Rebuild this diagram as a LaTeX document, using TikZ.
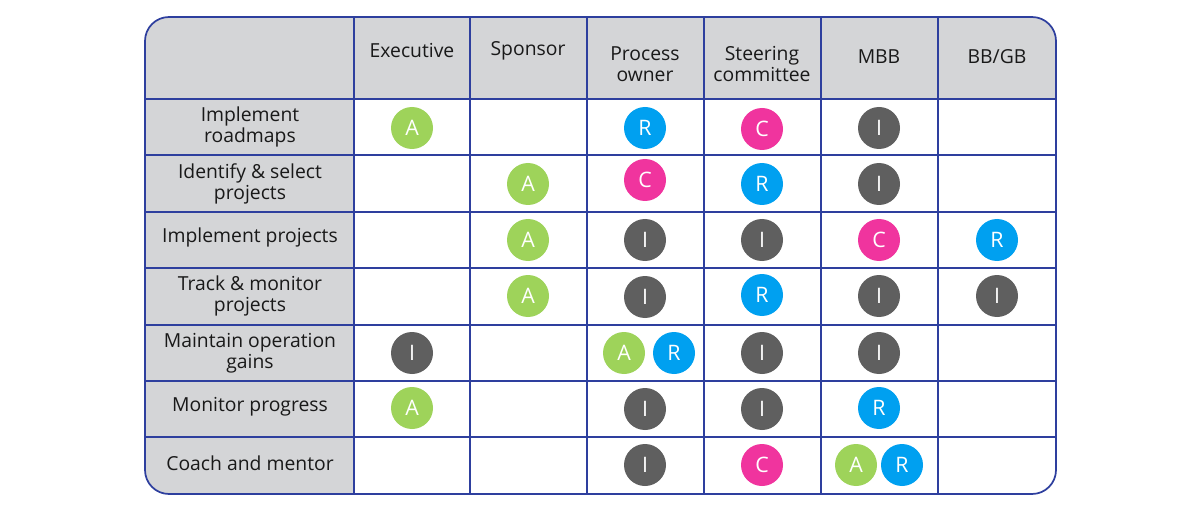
\documentclass[tikz,border=0pt]{standalone}
\usepackage{fontspec}
\setmainfont{Open Sans}
\definecolor{bord}{HTML}{2E3F9E}
\definecolor{hdr}{HTML}{D4D5D7}
\definecolor{cA}{HTML}{9ED35A}
\definecolor{cR}{HTML}{00A0F0}
\definecolor{cC}{HTML}{F0349E}
\definecolor{cI}{HTML}{5F5F5F}
\begin{document}
\begin{tikzpicture}[x=0.75pt,y=-0.75pt,
  txt/.style={font=\fontsize{14.5}{16}\selectfont, align=center, text=black!90},
  bub/.style={circle, minimum size=31.5pt, inner sep=0pt, text=white, font=\fontsize{16}{16}\selectfont}]
\useasboundingbox (0,0) rectangle (1196,506);
\begin{scope}
\clip[rounded corners=18] (145,17) rectangle (1056,494);
\fill[white] (145,17) rectangle (1056,494);
\fill[hdr] (145,17) rectangle (1056,99);
\fill[hdr] (145,17) rectangle (354,494);
\foreach \x in {354,470,587,704,821,938} \draw[bord,line width=1.1pt] (\x,17) -- (\x,494);
\foreach \y in {99,155,212,268,325,381,437} \draw[bord,line width=1.1pt] (145,\y) -- (1056,\y);
\end{scope}
\draw[bord,line width=1.3pt,rounded corners=18] (145,17) rectangle (1056,494);
% headers
\node[txt] (h1) at (412,51) {Executive};
\node[txt] (h2) at (528,51) {Sponsor};
\node[txt] (h3) at (645,64) {Process\\owner};
\node[txt] (h4) at (762,64) {Steering\\committee};
\node[txt] (h5) at (879,57) {MBB};
\node[txt] (h6) at (997,57) {BB/GB};
% row labels
\node[txt] (r1) at (250,127) {Implement\\roadmaps};
\node[txt] (r2) at (250,184) {Identify \& select\\projects};
\node[txt] (r3) at (250,237) {Implement projects};
\node[txt] (r4) at (250,296) {Track \& monitor\\projects};
\node[txt] (r5) at (250,353) {Maintain operation\\gains};
\node[txt] (r6) at (250,407) {Monitor progress};
\node[txt] (r7) at (250,463) {Coach and mentor};
% bubbles
\newcommand\bb[4]{\node[bub,fill=c#3] (#4) at (#1,#2) {#3};}
\bb{412}{128}{A}{a11} \bb{645}{128}{R}{a13} \bb{762}{129}{C}{a14} \bb{879}{128}{I}{a15}
\bb{528}{184}{A}{a22} \bb{645}{180}{C}{a23} \bb{762}{184}{R}{a24} \bb{879}{184}{I}{a25}
\bb{528}{240}{A}{a32} \bb{645}{240}{I}{a33} \bb{762}{240}{I}{a34} \bb{879}{240}{C}{a35} \bb{997}{240}{R}{a36}
\bb{528}{296}{A}{a42} \bb{645}{297}{I}{a43} \bb{762}{295}{R}{a44} \bb{879}{296}{I}{a45} \bb{997}{296}{I}{a46}
\bb{412}{353}{I}{a51} \bb{624}{353}{A}{a53a} \bb{674}{353}{R}{a53b} \bb{762}{353}{I}{a54} \bb{879}{353}{I}{a55}
\bb{412}{408}{A}{a61} \bb{645}{409}{I}{a63} \bb{762}{409}{I}{a64} \bb{879}{408}{R}{a65}
\bb{645}{465}{I}{a73} \bb{762}{465}{C}{a74} \bb{856}{465}{A}{a75a} \bb{902}{465}{R}{a75b}
\end{tikzpicture}
\end{document}
